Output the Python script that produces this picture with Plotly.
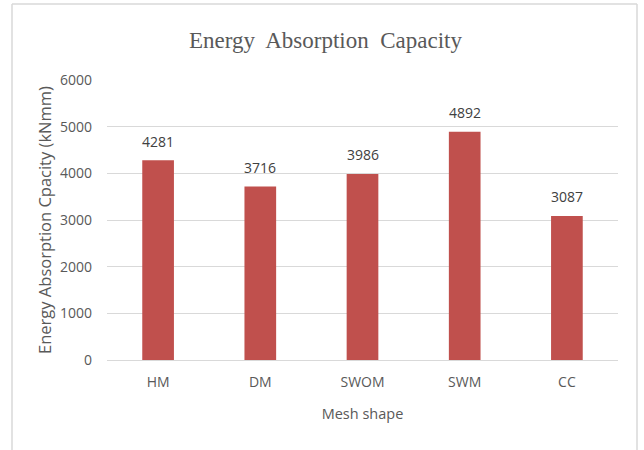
import plotly.graph_objects as go

# Mesh shapes and their energy absorption capacity (kNmm)
categories = ["HM", "DM", "SWOM", "SWM", "CC"]
energy = [4281, 3716, 3986, 4892, 3087]
y_ticks = [0, 1000, 2000, 3000, 4000, 5000, 6000]

W, H = 644, 450
L, R, T, B = 107, 26, 80, 90
TXT = "#595959"

fig = go.Figure(
    go.Bar(
        x=categories,
        y=energy,
        marker=dict(color="#C0504D", line=dict(width=0)),
        width=0.31,
        hoverinfo="x+y",
    )
)

# Value labels above each bar
for cat, val in zip(categories, energy):
    fig.add_annotation(
        x=cat, y=val, text=str(val), showarrow=False,
        yanchor="middle", yshift=19,
        font=dict(family="Open Sans", size=14, color="#404040"),
    )

fig.update_layout(
    width=W,
    height=H,
    margin=dict(l=L, r=R, t=T, b=B),
    paper_bgcolor="white",
    plot_bgcolor="white",
    showlegend=False,
    title=dict(
        text="Energy  Absorption  Capacity",
        font=dict(family="Liberation Serif", size=23, color=TXT),
        x=325.5 / W,
        xanchor="center",
        y=1 - 40 / H,
        yanchor="middle",
    ),
    xaxis=dict(
        showgrid=False,
        showline=False,
        ticks="",
        ticklabelstandoff=12,
        tickfont=dict(family="Open Sans", size=14, color=TXT),
        title=dict(
            text="Mesh shape",
            font=dict(family="Open Sans", size=14.5, color=TXT),
            standoff=18,
        ),
    ),
    yaxis=dict(
        range=[0, 6000],
        tickvals=y_ticks,
        showgrid=True,
        gridcolor="#D9D9D9",
        gridwidth=1,
        zeroline=True,
        zerolinecolor="#D9D9D9",
        zerolinewidth=1,
        showline=False,
        ticks="",
        ticklabelstandoff=14,
        tickfont=dict(family="Open Sans", size=14, color=TXT),
        title=dict(
            text="Energy Absorption Cpacity (kNmm)",
            font=dict(family="Open Sans", size=16.5, color=TXT),
            standoff=4,
        ),
    ),
)

# Outer chart frame (top, left, right edges)
border = dict(color="#D9D9D9", width=1.5)
x0, x1 = (12 - L) / (W - L - R), (637 - L) / (W - L - R)
y_top = (H - B - 4) / (H - T - B)
y_bot = (H - B - 455) / (H - T - B)
for xa, ya, xb, yb in [(x0, y_top, x1, y_top), (x0, y_top, x0, y_bot), (x1, y_top, x1, y_bot)]:
    fig.add_shape(type="line", xref="paper", yref="paper",
                  x0=xa, y0=ya, x1=xb, y1=yb, line=border, layer="below")

fig.write_html("out.html")
